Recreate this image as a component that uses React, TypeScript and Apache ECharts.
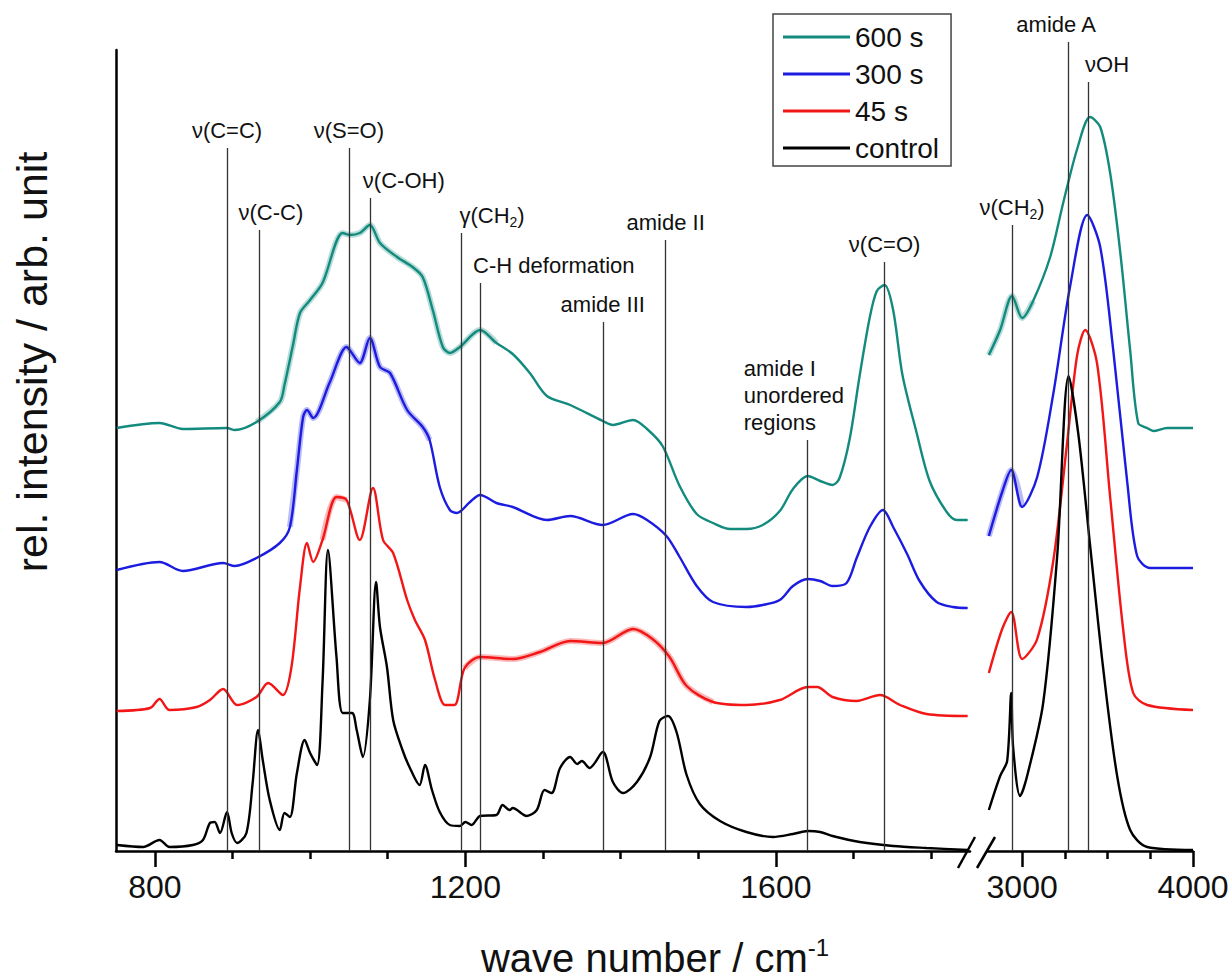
import React, { useEffect, useRef } from "react";
import * as echarts from "echarts";

const FONT = '"Liberation Sans", Arial, Helvetica, sans-serif';

const seriesNames = ["600 s", "300 s", "45 s", "control"];
const seriesColors = ["#138a7e", "#1c1ce0", "#f21616", "#000000"];

// fingerprint region: [wave number cm-1, rel. intensity]
const s600Fingerprint = [
  [751, 42.3], [806, 42.8], [836, 42.2], [893, 42.3], [903, 42.1], [931, 42.9], [961, 44.9], [967, 46.6],
  [978, 50.6], [987, 53.8], [1000, 55.1], [1016, 56.8], [1042, 61.8], [1051, 61.6], [1064, 61.8], [1077, 62.6],
  [1090, 60.8], [1112, 59.4], [1132, 58.4], [1145, 57.4], [1158, 54.1], [1171, 50.4], [1180, 49.8], [1193, 50.4],
  [1219, 52.1], [1240, 50.8], [1261, 49.7], [1283, 47.8], [1305, 45.5], [1335, 44.6], [1377, 43.0], [1390, 42.6],
  [1416, 43.1], [1434, 42.2], [1454, 40.5], [1476, 36.5], [1498, 33.7], [1519, 32.8], [1541, 32.2], [1562, 32.2],
  [1583, 32.6], [1605, 34.0], [1622, 36.2], [1641, 37.5], [1657, 37.0], [1673, 36.6], [1682, 37.3], [1695, 41.2],
  [1708, 47.6], [1721, 53.4], [1730, 56.0], [1740, 56.6], [1751, 54.1], [1763, 47.6], [1781, 41.9], [1798, 37.0],
  [1820, 33.9], [1833, 33.1], [1847, 33.1],
];
const s300Fingerprint = [
  [751, 28.1], [806, 28.9], [836, 28.0], [888, 28.8], [903, 28.5], [931, 29.3], [961, 30.8], [974, 32.4],
  [983, 38.1], [991, 43.4], [996, 44.1], [1004, 43.3], [1025, 46.8], [1047, 50.4], [1051, 50.1], [1064, 48.8],
  [1077, 51.3], [1090, 48.4], [1103, 47.8], [1125, 44.1], [1145, 42.4], [1154, 41.1], [1167, 36.4], [1180, 34.1],
  [1189, 33.8], [1206, 34.9], [1219, 35.6], [1240, 34.8], [1261, 34.4], [1305, 33.1], [1335, 33.5], [1377, 32.6],
  [1416, 33.7], [1434, 33.1], [1459, 31.5], [1476, 29.4], [1498, 26.5], [1519, 24.9], [1562, 24.4], [1583, 24.6],
  [1605, 25.1], [1622, 26.5], [1641, 27.2], [1657, 27.0], [1673, 26.5], [1691, 26.8], [1704, 29.3], [1721, 32.4],
  [1738, 34.1], [1751, 32.4], [1769, 29.7], [1785, 27.0], [1807, 24.9], [1828, 24.4], [1847, 24.3],
];
const s45Fingerprint = [
  [751, 14.0], [794, 14.3], [806, 15.2], [819, 14.1], [854, 14.4], [871, 15.1], [888, 16.2], [906, 14.6],
  [931, 15.4], [946, 16.8], [965, 15.6], [976, 18.4], [987, 26.4], [996, 30.8], [1004, 28.9], [1016, 31.1],
  [1034, 35.4], [1047, 35.1], [1064, 31.1], [1081, 36.3], [1094, 31.1], [1107, 29.8], [1125, 25.1], [1135, 23.1],
  [1148, 21.1], [1161, 17.1], [1174, 14.6], [1186, 14.6], [1199, 18.3], [1219, 19.4], [1261, 19.2], [1296, 19.9],
  [1335, 21.0], [1377, 20.8], [1416, 22.2], [1441, 21.2], [1463, 19.4], [1485, 16.5], [1519, 14.9], [1562, 14.6],
  [1605, 15.1], [1641, 16.4], [1653, 16.4], [1673, 15.4], [1704, 15.0], [1734, 15.6], [1760, 14.6], [1794, 13.7],
  [1847, 13.5],
];
const controlFingerprint = [
  [751, 0.6], [785, 0.4], [806, 1.1], [819, 0.4], [849, 0.6], [862, 1.1], [871, 2.8], [877, 2.9],
  [884, 1.8], [893, 3.9], [899, 1.8], [906, 0.8], [918, 1.8], [926, 6.8], [933, 12.1], [939, 9.1],
  [948, 5.1], [961, 2.1], [967, 3.8], [974, 3.4], [983, 7.8], [993, 11.1], [1000, 9.8], [1009, 8.6],
  [1016, 16.8], [1023, 30.1], [1034, 19.4], [1042, 13.8], [1054, 13.8], [1060, 12.1], [1068, 9.4], [1077, 15.1],
  [1085, 26.9], [1090, 22.4], [1099, 18.4], [1107, 13.1], [1119, 10.1], [1128, 8.4], [1141, 6.6], [1148, 8.6],
  [1157, 6.1], [1167, 3.9], [1180, 2.6], [1193, 2.5], [1200, 2.9], [1208, 2.6], [1219, 3.5], [1240, 3.6],
  [1248, 4.6], [1257, 4.1], [1261, 4.3], [1279, 3.5], [1292, 4.1], [1302, 6.1], [1311, 5.8], [1322, 8.3],
  [1335, 9.4], [1344, 8.7], [1350, 9.0], [1360, 8.3], [1377, 9.9], [1390, 6.9], [1403, 5.8], [1421, 6.9],
  [1438, 9.4], [1450, 13.0], [1461, 13.5], [1472, 11.9], [1485, 7.6], [1502, 4.7], [1528, 3.0], [1562, 1.9],
  [1596, 1.4], [1622, 1.7], [1641, 2.0], [1657, 1.9], [1673, 1.5], [1708, 0.9], [1751, 0.5], [1794, 0.3],
  [1847, 0.1],
];

// stretching region
const s600Stretch = [
  [2805, 49.6], [2871, 52.1], [2941, 55.5], [3000, 53.3], [3064, 55.0], [3164, 59.4], [3240, 64.8], [3322, 70.2],
  [3398, 73.4], [3457, 72.4], [3515, 67.8], [3574, 59.9], [3632, 50.1], [3679, 42.8], [3732, 42.3], [3767, 42.0],
  [3849, 42.3], [4000, 42.3],
];
const s300Stretch = [
  [2805, 31.5], [2883, 35.9], [2936, 38.1], [3000, 34.4], [3088, 37.4], [3182, 45.7], [3281, 56.5], [3381, 63.6],
  [3457, 60.4], [3533, 50.1], [3615, 36.9], [3673, 29.5], [3749, 28.3], [4000, 28.3],
];
const s45Stretch = [
  [2805, 17.8], [2883, 22.2], [2936, 23.9], [3000, 19.2], [3088, 21.2], [3182, 29.0], [3263, 40.8], [3322, 49.6],
  [3369, 52.1], [3439, 48.7], [3515, 35.4], [3591, 22.2], [3650, 15.8], [3732, 14.6], [4000, 14.1],
];
const controlStretch = [
  [2805, 4.1], [2871, 7.5], [2912, 9.0], [2936, 15.8], [2947, 10.4], [2988, 5.5], [3029, 7.5], [3123, 14.8],
  [3205, 29.5], [3272, 47.5], [3328, 41.8], [3398, 30.5], [3474, 18.3], [3556, 7.5], [3632, 2.1], [3732, 0.4],
  [4000, 0.1],
];

// wave-number ranges where the standard-deviation band is visible
const s600BandRanges = [[960, 1250], [2800, 3100]];
const s300BandRanges = [[975, 1160], [2800, 3050]];
const s45BandRanges = [[1020, 1060], [1210, 1520]];

const fingerprintBands = ["ν(C=C)", "ν(C-C)", "ν(S=O)", "ν(C-OH)", "γ(CH2)", "C-H deformation", "amide III", "amide II", "amide I\nunordered\nregions", "ν(C=O)"];
const fingerprintBandPositions = [893, 934, 1050, 1077, 1195, 1219, 1377, 1458, 1641, 1740];
const fingerprintBandHeights = [70.3, 62.1, 70.3, 65.3, 61.8, 56.8, 52.9, 61.1, 41.1, 58.9];

const stretchBands = ["ν(CH2)", "amide A", "νOH"];
const stretchBandPositions = [2941, 3269, 3386];
const stretchBandHeights = [62.6, 80.9, 76.9];

const fingerprintTicks = [800, 1200, 1600];
const fingerprintMinorTicks = [900, 1000, 1100, 1300, 1400, 1500, 1700, 1800];
const stretchTicks = [3000, 4000];
const stretchMinorTicks = [3250, 3500, 3750];

// label placement styling (not data)
const labelLayout: Record<string, { align?: string; dx?: number }> = {
  "ν(C-C)": { dx: 12 },
  "ν(C-OH)": { align: "left", dx: -7 },
  "γ(CH2)": { align: "left", dx: -2 },
  "C-H deformation": { align: "left", dx: -7 },
  "amide I\nunordered\nregions": { align: "left", dx: -64 },
  "amide A": { dx: -12 },
  "νOH": { align: "left", dx: -3 },
};

const AXIS_COLOR = "#000";
const TEXT_COLOR = "#111";

function lineSeries(name: string, color: string, data: number[][], xi: number, yi: number) {
  return {
    type: "line",
    name,
    data,
    xAxisIndex: xi,
    yAxisIndex: yi,
    symbol: "none",
    showSymbol: false,
    smooth: 0.3,
    lineStyle: { color, width: 2.4 },
    itemStyle: { color },
    emphasis: { disabled: true },
    z: 3,
  };
}

function sdSeries(name: string, color: string, data: number[][], ranges: number[][], xi: number, yi: number) {
  const inRange = (x: number) => ranges.some((r) => x >= r[0] && x <= r[1]);
  const segData = data.map((d, i) => {
    const prev = data[i - 1];
    const next = data[i + 1];
    const keep = inRange(d[0]) || (prev && inRange(prev[0]) && inRange(d[0])) || (next && inRange(next[0]));
    return keep ? d : [d[0], null];
  });
  return {
    type: "line",
    name: name + " sd",
    data: segData,
    xAxisIndex: xi,
    yAxisIndex: yi,
    symbol: "none",
    showSymbol: false,
    smooth: 0.3,
    connectNulls: false,
    lineStyle: { color, width: 6, opacity: 0.3 },
    itemStyle: { color },
    emphasis: { disabled: true },
    silent: true,
    z: 2,
  };
}

function bandSeries(names: string[], pos: number[], heights: number[], xi: number, yi: number) {
  return {
    type: "scatter",
    name: "bands" + xi,
    xAxisIndex: xi,
    yAxisIndex: yi,
    symbolSize: 0,
    silent: true,
    z: 2,
    itemStyle: { opacity: 1, color: TEXT_COLOR },
    data: names.map((n, i) => {
      const lay = labelLayout[n] || {};
      return {
        name: n,
        value: [pos[i], heights[i]],
        label: { align: lay.align || "center", offset: [lay.dx || 0, 0] },
      };
    }),
    label: {
      show: true,
      position: "top",
      distance: 4,
      color: TEXT_COLOR,
      opacity: 1,
      fontFamily: FONT,
      fontSize: 22,
      lineHeight: 27,
      textBorderWidth: 0,
      formatter: (p: any) => String(p.name).replace("CH2", "CH{s|2}"),
      rich: {
        s: { fontSize: 14, fontFamily: FONT, color: TEXT_COLOR, verticalAlign: "bottom", lineHeight: 14 },
      },
    },
    markLine: {
      silent: true,
      symbol: ["none", "none"],
      label: { show: false },
      emphasis: { disabled: true },
      lineStyle: { color: "#333", width: 1.3, type: "solid", opacity: 1 },
      data: pos.map((p, i) => [{ coord: [p, 0] }, { coord: [p, heights[i]] }]),
    },
  };
}

function majorAxis(grid: number, min: number, max: number, ticks: number[]) {
  return {
    type: "value",
    gridIndex: grid,
    position: "bottom",
    min,
    max,
    axisLine: { show: true, onZero: false, lineStyle: { color: AXIS_COLOR, width: 2.5 } },
    axisTick: { show: true, customValues: ticks, length: 16, lineStyle: { color: AXIS_COLOR, width: 2.5 } },
    axisLabel: {
      show: true,
      customValues: ticks,
      fontSize: 32,
      fontFamily: FONT,
      color: TEXT_COLOR,
      margin: 20,
      formatter: (v: number) => String(v),
    },
    splitLine: { show: false },
  };
}
function minorAxis(grid: number, min: number, max: number, ticks: number[]) {
  return {
    type: "value",
    gridIndex: grid,
    position: "bottom",
    min,
    max,
    axisLine: { show: false, onZero: false },
    axisTick: { show: true, customValues: ticks, length: 8, lineStyle: { color: AXIS_COLOR, width: 2.5 } },
    axisLabel: { show: false },
    splitLine: { show: false },
  };
}

export default function App() {
  const ref = useRef<HTMLDivElement>(null);
  useEffect(() => {
    if (!ref.current) return;
    const chart = echarts.init(ref.current, null, { renderer: "svg" });
    const fp = [s600Fingerprint, s300Fingerprint, s45Fingerprint, controlFingerprint];
    const st = [s600Stretch, s300Stretch, s45Stretch, controlStretch];
    const sdRanges = [s600BandRanges, s300BandRanges, s45BandRanges];
    const series: any[] = [];
    sdRanges.forEach((r, i) => {
      series.push(sdSeries(seriesNames[i], seriesColors[i], fp[i], r, 0, 0));
      series.push(sdSeries(seriesNames[i], seriesColors[i], st[i], r, 2, 1));
    });
    seriesNames.forEach((n, i) => {
      series.push(lineSeries(n, seriesColors[i], fp[i], 0, 0));
      series.push(lineSeries(n, seriesColors[i], st[i], 2, 1));
    });
    series.push(bandSeries(fingerprintBands, fingerprintBandPositions, fingerprintBandHeights, 0, 0));
    series.push(bandSeries(stretchBands, stretchBandPositions, stretchBandHeights, 2, 1));

    chart.setOption({
      animation: false,
      backgroundColor: "#ffffff",
      textStyle: { fontFamily: FONT },
      grid: [
        { left: 116, top: 50, width: 854, height: 801, containLabel: false },
        { left: 988, top: 21, width: 205, height: 830, containLabel: false },
      ],
      xAxis: [
        majorAxis(0, 750, 1850, fingerprintTicks),
        minorAxis(0, 750, 1850, fingerprintMinorTicks),
        majorAxis(1, 2800, 4000, stretchTicks),
        minorAxis(1, 2800, 4000, stretchMinorTicks),
      ],
      yAxis: [
        {
          type: "value",
          gridIndex: 0,
          min: 0,
          max: 80.1,
          axisLine: { show: true, onZero: false, lineStyle: { color: AXIS_COLOR, width: 2.5 } },
          axisTick: { show: false },
          axisLabel: { show: false },
          splitLine: { show: false },
        },
        { type: "value", gridIndex: 1, min: 0, max: 83, show: false, splitLine: { show: false } },
      ],
      legend: {
        data: seriesNames,
        orient: "vertical",
        left: 773,
        top: 14,
        icon: "rect",
        itemWidth: 67,
        itemHeight: 3,
        itemGap: 9,
        padding: [9, 12, 4, 10],
        borderColor: "#444",
        borderWidth: 1.5,
        backgroundColor: "#fff",
        selectedMode: false,
        textStyle: { fontSize: 28, fontFamily: FONT, color: TEXT_COLOR },
      },
      graphic: [
        {
          type: "text",
          x: 655,
          y: 958,
          style: {
            text: "{a|wave number / cm}{b|-1}",
            align: "center",
            verticalAlign: "middle",
            rich: {
              a: { fontSize: 40, fontFamily: FONT, fill: TEXT_COLOR, color: TEXT_COLOR, lineHeight: 46 },
              b: { fontSize: 24, fontFamily: FONT, fill: TEXT_COLOR, color: TEXT_COLOR, verticalAlign: "top", lineHeight: 24 },
            },
          },
        },
        {
          type: "text",
          x: 32,
          y: 362,
          rotation: Math.PI / 2,
          style: {
            text: "rel. intensity / arb. unit",
            fontSize: 43,
            fontFamily: FONT,
            fill: TEXT_COLOR,
            align: "center",
            verticalAlign: "middle",
          },
        },
        { type: "line", shape: { x1: 958, y1: 868, x2: 975, y2: 837 }, style: { stroke: "#000", lineWidth: 2.5 } },
        { type: "line", shape: { x1: 977, y1: 868, x2: 995, y2: 837 }, style: { stroke: "#000", lineWidth: 2.5 } },
      ],
      series,
    });
    return () => chart.dispose();
  }, []);
  return <div ref={ref} style={{ position: "fixed", left: 0, top: 0, width: 1232, height: 980 }} />;
}
